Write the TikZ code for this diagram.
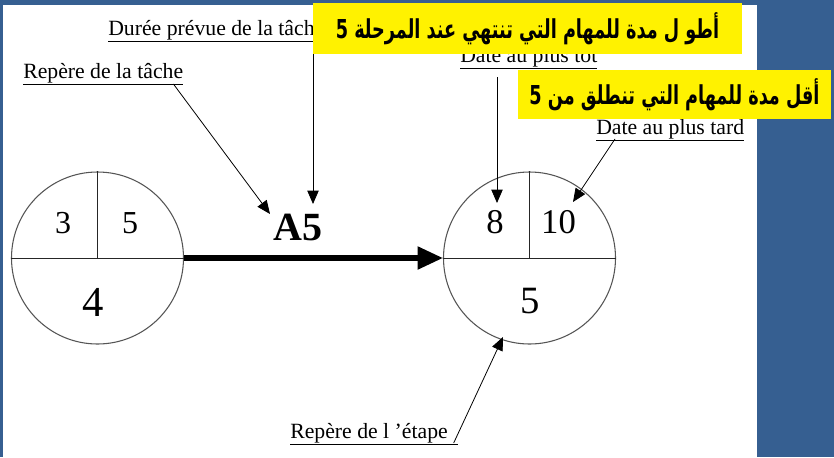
\documentclass[tikz,border=0pt]{standalone}
\usepackage{graphicx}
\usepackage{fontspec}
\setmainfont{Liberation Serif}
\newfontfamily\arabicfont[Script=Arabic]{DejaVu Sans}
\TeXXeTstate=1
\usetikzlibrary{arrows.meta}
\definecolor{bgblue}{HTML}{365F91}
\definecolor{ringgray}{HTML}{555555}
\newcommand{\ulx}[1]{\underline{#1}}
\begin{document}
\begin{tikzpicture}[x=0.75pt,y=-0.75pt,
  lbl/.style={font=\fontsize{16.3}{18}\selectfont, inner sep=0, anchor=base west},
  ring/.style={circle, draw=ringgray, line width=0.8pt, minimum size=129pt, inner sep=0},
  div/.style={draw=black!85, line width=0.7pt},
  ptr/.style={-{Triangle[length=10pt,width=8.5pt]}, line width=0.6pt},
  num/.style={inner sep=0, anchor=center},
  note/.style={fill=yellow, inner sep=0, font=\arabicfont\bfseries\fontsize{17}{20}\selectfont}]
\useasboundingbox (0,0) rectangle (834,457);
\fill[bgblue] (0,0) rectangle (834,457);
\fill[white] (3,5) rectangle (757,457);

% circles (events)
\node[ring] (c1) at (97.5,258) {};
\node[ring] (c2) at (529.5,258) {};
\draw[div] (c1.west) -- (c1.east);
\draw[div] (c1.north) -- (c1.center);
\draw[div] (c2.west) -- (c2.east);
\draw[div] (c2.north) -- (c2.center);

\node[num, font=\fontsize{24}{26}\selectfont] (e1a) at (63,223) {3};
\node[num, font=\fontsize{24}{26}\selectfont] (e1b) at (130,223) {5};
\node[num, font=\fontsize{32}{34}\selectfont] (e1c) at (93,302) {4};
\node[num, font=\fontsize{26}{28}\selectfont] (e2a) at (495,222) {8};
\node[num, font=\fontsize{26}{28}\selectfont] (e2b) at (558.5,222) {10};
\node[num, font=\fontsize{29}{31}\selectfont] (e2c) at (530,301) {5};

% task arrow
\draw[line width=3.8pt, -{Triangle[length=19pt,width=16.5pt]}] (c1.east) -- (c2.west);
\node[num, font=\bfseries\fontsize{30}{32}\selectfont] (task) at (298,227) {A5};

% labels
\node[lbl] (dur) at (108,35) {\ulx{Durée prévue de la tâche}};
\node[lbl] (rt) at (23,78) {\ulx{Repère de la tâche}};
\node[lbl] (tot) at (460,62) {\ulx{Date au plus tot}};
\node[lbl] (tard) at (596,134) {\ulx{Date au plus tard}};
\node[lbl] (re) at (290,438) {\ulx{Repère de l ’étape\hspace{8pt}}};

\coordinate (durS) at (313,38);
\coordinate (totS) at (497,77);
\coordinate (tipA) at (270,214);
\coordinate (tipB) at (313,204);
\coordinate (tipC) at (497,203);
\coordinate (tipD) at (573,202);
\coordinate (tipE) at (503,337);

\draw[ptr] ([shift={(-10,6)}]rt.base east) -- (tipA);
\draw[ptr] (durS) -- (tipB);
\draw[ptr] (totS) -- (tipC);
\draw[ptr] ([shift={(19,5)}]tard.base west) -- (tipD);
\draw[ptr] ([shift={(-5,5)}]re.base east) -- (tipE);

% yellow notes
\node[note, minimum width=321.75pt, minimum height=38.25pt] (n1) at (527.5,28.5)
  {\scalebox{0.78}[1.15]{\beginR أطو ل  مدة للمهام التي تنتهي عند المرحلة 5\endR}};
\node[note, minimum width=234.75pt, minimum height=36.75pt] (n2) at (674.5,94.5)
  {\scalebox{0.78}[1.15]{\beginR أقل مدة للمهام التي تنطلق من 5\endR}};
\end{tikzpicture}
\end{document}
